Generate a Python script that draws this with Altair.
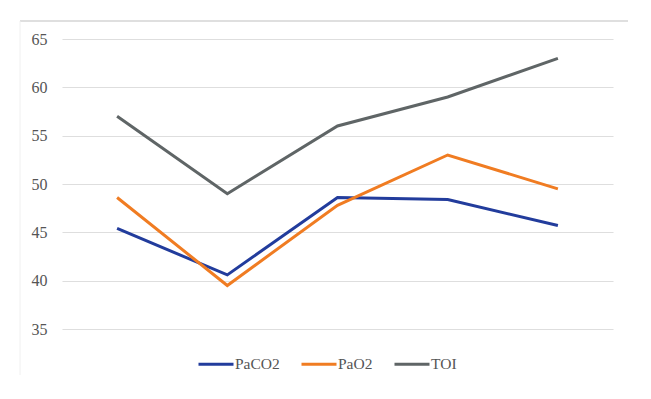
import altair as alt
import pandas as pd

categories = ["1", "2", "3", "4", "5"]
series_names = ["PaCO2", "PaO2", "TOI"]
paco2 = [45.4, 40.6, 48.6, 48.4, 45.7]
pao2 = [48.6, 39.5, 47.8, 53.0, 49.5]
toi = [57.0, 49.0, 56.0, 59.0, 63.0]
colors = ["#223c9c", "#f07c22", "#5f6566"]
y_ticks = [35, 40, 45, 50, 55, 60, 65]

rows = []
for name, vals in zip(series_names, [paco2, pao2, toi]):
    for c, v in zip(categories, vals):
        rows.append({"cat": c, "series": name, "value": v})
df = pd.DataFrame(rows)

FONT = "Liberation Serif"

lines = alt.Chart(df).mark_line(strokeWidth=3).encode(
    x=alt.X("cat:N", sort=categories, axis=None,
            scale=alt.Scale(paddingInner=0, paddingOuter=0.5)),
    y=alt.Y("value:Q",
            scale=alt.Scale(domain=[35, 65], nice=False, zero=False),
            axis=alt.Axis(values=y_ticks, title=None, domain=False, ticks=False,
                          labelPadding=15, labelFont=FONT, labelFontSize=16,
                          labelColor="#555555", gridColor="#dedede",
                          gridWidth=1.2)),
    color=alt.Color("series:N", sort=series_names,
                    scale=alt.Scale(domain=series_names, range=colors),
                    legend=alt.Legend(title=None, orient="none",
                                      direction="horizontal",
                                      legendX=135, legendY=306,
                                      symbolType="stroke", symbolStrokeWidth=3,
                                      symbolSize=1225, labelOffset=0,
                                      columnPadding=15,
                                      labelFont=FONT, labelFontSize=15.5,
                                      labelColor="#555555")),
)

frame_top = alt.Chart(pd.DataFrame({"k": [0]})).mark_rule(
    color="#d4d4d4", strokeWidth=1.5).encode(
    x=alt.value(-42), x2=alt.value(566), y=alt.value(-18))
frame_left = alt.Chart(pd.DataFrame({"k": [0]})).mark_rule(
    color="#f0f0f0", strokeWidth=1).encode(
    x=alt.value(-42), y=alt.value(-18), y2=alt.value(336))

chart = alt.layer(frame_top, frame_left, lines).properties(
    width=551, height=290,
    padding={"left": 54, "top": 31, "right": 30, "bottom": 62},
    autosize=alt.AutoSizeParams(type="none"),
    background="white",
).configure(font=FONT).configure_view(stroke=None)

chart.save("out.html", embed_options={"renderer": "svg", "actions": False})
